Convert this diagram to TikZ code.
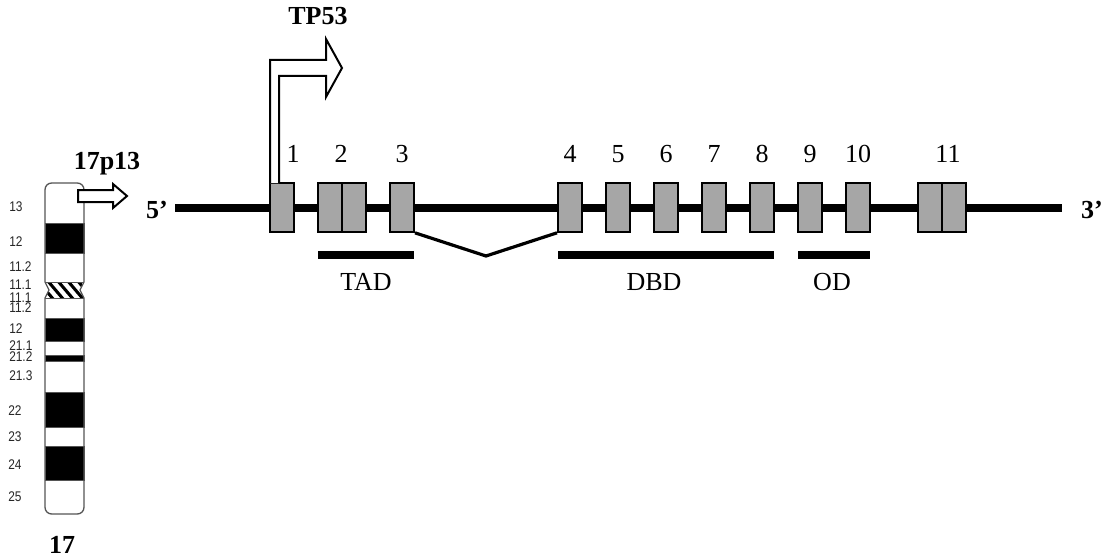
\documentclass[tikz,border=0pt]{standalone}
\usepackage{fontspec}
\setmainfont{Liberation Serif}
\newfontfamily\bandfont[FakeStretch=0.85]{Liberation Sans}
\usetikzlibrary{positioning,calc}
\definecolor{exongray}{HTML}{A6A6A6}
\definecolor{chromgray}{HTML}{555555}
\tikzset{
    exon/.style={draw, rectangle, fill=exongray, line width=1.5pt, minimum width=18pt, minimum height=36.5pt, inner sep=0pt},
    backbone/.style={line width=6pt},
    domainbar/.style={line width=6pt},
    splice/.style={line width=2.4pt, line join=round},
    pointer/.style={draw, fill=white, line width=1.5pt, miter limit=10},
    num/.style={font=\fontsize{19.5pt}{21pt}\selectfont, inner sep=0pt, anchor=base},
    title/.style={font=\fontsize{19.5pt}{21pt}\selectfont\bfseries, inner sep=0pt, anchor=base},
    band/.style={font=\bandfont\fontsize{10.5pt}{11pt}\selectfont, anchor=west, inner sep=0pt, text=black!85},
    darkband/.style={fill=black, draw=chromgray, line width=0.5pt}
}
\begin{document}
\begin{tikzpicture}[x=0.75pt,y=-0.75pt]
    \useasboundingbox (0,0) rectangle (1110,560);

    % chromosome body
    \fill[white] (0,0) rectangle (1110,560);
    \foreach \ya/\yb in {223/253,318/341,355/361,392/427,446/480} {
        \path[darkband] (45,\ya) rectangle (84,\yb);
    }
    \begin{scope}
        \clip (45,282) -- (84,282) -- (80,290) -- (84,298) -- (45,298) -- (49,290) -- cycle;
        \foreach \x in {27,37,...,87} {
            \draw[line width=2.3pt] (\x,280) -- ($(\x,280)+(17,20)$);
        }
    \end{scope}
    \draw[chromgray, line width=0.5pt] (45,282) -- (84,282) (45,298) -- (84,298);
    \draw[chromgray, line width=1pt, rounded corners=5pt] (45,282) -- (45,183) -- (84,183) -- (84,282);
    \draw[chromgray, line width=1pt] (45,282) -- (49,290) -- (45,298) (84,282) -- (80,290) -- (84,298);
    \draw[chromgray, line width=1pt, rounded corners=5pt] (45,298) -- (45,514) -- (84,514) -- (84,298);

    % band labels
    \foreach \txt/\y in {13/207,12/242,11.2/267,11.1/285,11.1/298,11.2/308,12/329,21.1/346,21.2/357,21.3/376} {
        \node[band] (band\y) at (9,\y) {\txt};
    }
    \foreach \txt/\y in {22/411,23/437,24/465,25/497} {
        \node[band] (band\y) at (8,\y) {\txt};
    }
    \node[title] (chrom) at (62,553) {17};
    \node[title] (locus) at (107,169) {17p13};

    % small arrow out of the chromosome
    \path[pointer] (78,190) -- (113,190) -- (113,184) -- (127,196) -- (113,208) -- (113,202) -- (78,202) -- cycle;

    % gene backbone
    \coordinate (five) at (175,207.5);
    \coordinate (three) at (1062,207.5);
    \draw[backbone] (five) -- (three);
    \node[title] (fiveprime) at (157,218) {5’};
    \node[title] (threeprime) at (1092,218) {3’};

    % exons
    \foreach \name/\x in {e1/282,e2a/330,e2b/354,e3/402,e4/570,e5/618,e6/666,e7/714,e8/762,e9/810,e10/858,e11a/930,e11b/954} {
        \node[exon] (\name) at (\x,207.5) {};
    }
    \foreach \txt/\x in {1/293,2/341,3/402,4/570,5/618,6/666,7/714,8/762,9/810,10/858,11/948} {
        \node[num] (num\txt) at (\x,162) {\txt};
    }

    % start of transcription
    \path[pointer] (270,183) -- (270,60) -- (326,60) -- (326,39) -- (342,68) -- (326,97) -- (326,76) -- (279,76) -- (279,183);
    \node[title] (gene) at (318,25) {TP53};

    % splice between exons 3 and 4
    \coordinate (splicemid) at (486,256);
    \draw[splice] (e3.south east) -- (splicemid) -- (e4.south west);

    % domains
    \draw[domainbar] (318,255.3) coordinate (tadl) -- (414,255.3) coordinate (tadr);
    \draw[domainbar] (558,255.3) coordinate (dbdl) -- (774,255.3) coordinate (dbdr);
    \draw[domainbar] (798,255.3) coordinate (odl) -- (870,255.3) coordinate (odr);
    \node[num] (tad) at (366,290) {TAD};
    \node[num] (dbd) at (654,290) {DBD};
    \node[num] (od) at (832,290) {OD};
\end{tikzpicture}
\end{document}
